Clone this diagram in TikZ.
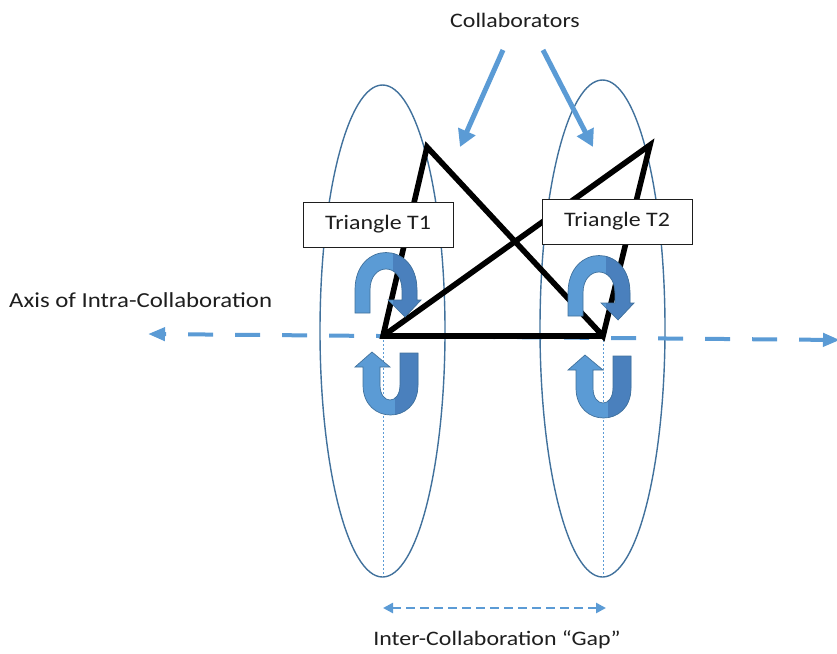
\documentclass[tikz,border=0pt]{standalone}
\usepackage{fontspec}
\setmainfont{Carlito}[FakeStretch=1.16]
\usetikzlibrary{arrows.meta}
\definecolor{axisblue}{HTML}{5B9BD5}
\definecolor{ringblue}{HTML}{41719C}
\definecolor{backblue}{HTML}{4A80BD}
\definecolor{inkgray}{HTML}{1E1E1E}
\begin{document}
\begin{tikzpicture}[x=1pt, y=-1pt,
  ring/.style={draw=ringblue, line width=1.4pt},
  hinge/.style={draw=axisblue, line width=0.9pt, dash pattern=on 2pt off 2pt},
  edge/.style={draw=black, line width=5.6pt, line join=miter},
  labelbox/.style={draw=inkgray, line width=0.9pt, fill=white, text=inkgray,
    minimum width=150pt, minimum height=45pt, inner sep=0pt,
    font=\fontsize{20.6}{24}\selectfont},
  caption/.style={text=inkgray, inner sep=0pt, font=\fontsize{20.6}{24}\selectfont},
  axisline/.style={draw=axisblue, line width=4pt, dash pattern=on 25pt off 22pt,
    arrows={Triangle[length=17pt,width=13pt]-Triangle[length=17pt,width=13pt]}},
  gapline/.style={draw=axisblue, line width=2.6pt, dash pattern=on 9pt off 5pt,
    arrows={Triangle[length=10pt,width=10pt]-Triangle[length=10pt,width=10pt]}},
  pointer/.style={draw=axisblue, line width=5pt,
    -{Triangle[length=17pt,width=18pt]}},
  turn/.pic={
    % upper U-turn, head pointing down on the right leg
    \def\upper{(355,313) -- (355,290) .. controls (355,240) and (417,240) .. (417,290)
      -- (417,300) -- (421,300) -- (405,317) -- (388,300) -- (402,300) -- (402,290)
      .. controls (402,262) and (370,262) .. (370,290) -- (370,313) -- cycle}
    \fill[axisblue] \upper;
    \begin{scope}
      \clip \upper;
      \fill[backblue] (393,240) rectangle (425,320);
    \end{scope}
    \draw[ringblue, line width=0.7pt] \upper;
    % lower U-turn, head pointing up on the left leg
    \def\lower{(363,367) -- (363,385) .. controls (363,425) and (418,425) .. (418,385)
      -- (418,353) -- (400,353) -- (400,385) .. controls (400,405) and (380,405) .. (380,385)
      -- (380,367) -- (390,367) -- (372,352) -- (355,367) -- cycle}
    \fill[axisblue] \lower;
    \begin{scope}
      \clip \lower;
      \fill[backblue] (395,350) rectangle (425,420);
    \end{scope}
    \draw[ringblue, line width=0.7pt] \lower;
  }]
\path[use as bounding box] (0,0) rectangle (837,653);

% the two rotation rings
\draw[ring] (382.5,331) ellipse [x radius=62.5pt, y radius=246pt];
\draw[ring] (602.5,328.5) ellipse [x radius=62.5pt, y radius=248.5pt];

% triangle corners
\coordinate (A1) at (427,147);
\coordinate (B1) at (383,336);
\coordinate (A2) at (650,145);
\coordinate (B2) at (603,336);
\coordinate (F1) at (383,576);
\coordinate (F2) at (603,576);

% hinge lines down to the ring bottoms
\draw[hinge] (B1) -- (F1);
\draw[hinge] (B2) -- (F2);

% axis of intra-collaboration
\coordinate (AxL) at (148,334);
\coordinate (AxR) at (840,340);
\draw[axisline] (AxR) -- (AxL);

% the two triangles
\draw[edge] (B2) -- (B1) -- (A1) -- (B2) -- (A2) -- (B1);

% rotation markers
\pic at (0,0) {turn};
\pic at (213,3) {turn};

% labels
\node[labelbox] (T1) at (378,224.5) {Triangle T1};
\node[labelbox] (T2) at (617,221.5) {Triangle T2};
\node[caption] (collab) at (515,20) {Collaborators};
\node[caption, anchor=base west, font=\fontsize{21.4}{24}\selectfont] (axis) at (9,307) {Axis of Intra-Collaboration};
\node[caption, anchor=base] (gap) at (497,645) {Inter-Collaboration “Gap”};

% collaborator pointers
\coordinate (C1) at (503,50);
\coordinate (C2) at (543,50);
\coordinate (P1) at (460,147);
\coordinate (P2) at (593,147);
\draw[pointer] (C1) -- (P1);
\draw[pointer] (C2) -- (P2);

% inter-collaboration gap
\coordinate (G1) at (383,608);
\coordinate (G2) at (606,608);
\draw[gapline] (G1) -- (G2);
\end{tikzpicture}
\end{document}
